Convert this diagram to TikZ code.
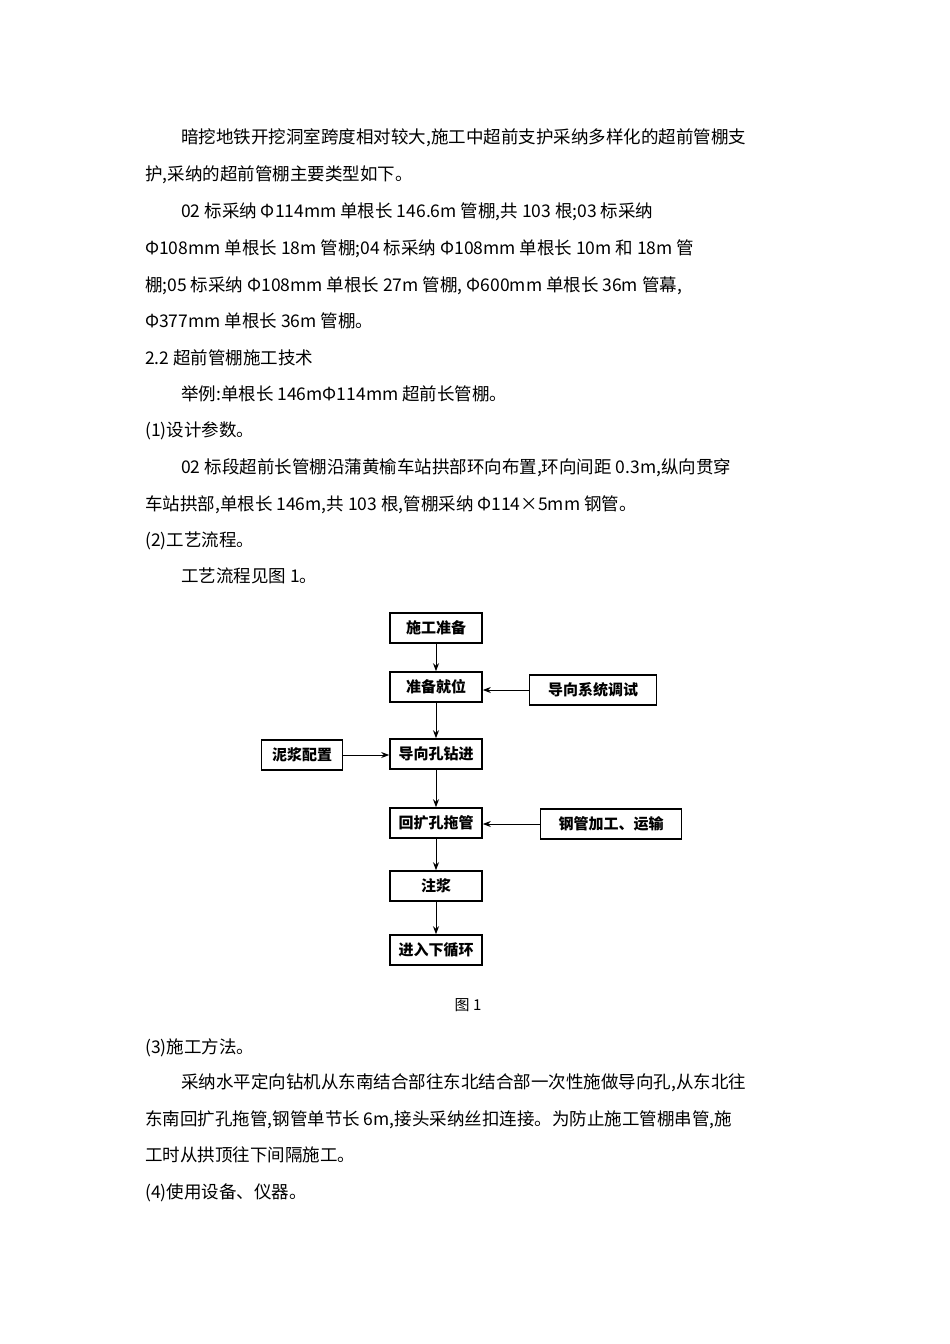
\documentclass[tikz,border=0pt]{standalone}
\usepackage{fontspec}
\setmainfont{Noto Sans CJK SC}
\usetikzlibrary{arrows.meta}
\tikzset{
 para/.style={anchor=base west,inner sep=0pt,font=\fontsize{17.5}{20}\selectfont},
 fbox/.style={draw,line width=1.6pt,minimum width=92pt,minimum height=30pt,inner sep=2pt,font=\fontsize{15}{17}\selectfont\bfseries},
 arr/.style={-{Stealth[length=8pt,width=6pt]},line width=1pt}
}
\begin{document}
\begin{tikzpicture}[x=1pt,y=-1pt]
\useasboundingbox[fill=white] (0,0) rectangle (950,1344);
\node[para] (t1) at (181,143) {暗挖地铁开挖洞室跨度相对较大,施工中超前支护采纳多样化的超前管棚支};
\node[para] (t2) at (145,180) {护,采纳的超前管棚主要类型如下。};
\node[para] (t3) at (181,217) {02 标采纳 Φ114mm 单根长 146.6m 管棚,共 103 根;03 标采纳};
\node[para] (t4) at (145,254) {Φ108mm 单根长 18m 管棚;04 标采纳 Φ108mm 单根长 10m 和 18m 管};
\node[para] (t5) at (145,291) {棚;05 标采纳 Φ108mm 单根长 27m 管棚, Φ600mm 单根长 36m 管幕,};
\node[para] (t6) at (145,327) {Φ377mm 单根长 36m 管棚。};
\node[para] (t7) at (145,364) {2.2 超前管棚施工技术};
\node[para] (t8) at (181,400) {举例:单根长 146mΦ114mm 超前长管棚。};
\node[para] (t9) at (145,436) {(1)设计参数。};
\node[para] (t10) at (181,473) {02 标段超前长管棚沿蒲黄榆车站拱部环向布置,环向间距 0.3m,纵向贯穿};
\node[para] (t11) at (145,510) {车站拱部,单根长 146m,共 103 根,管棚采纳 Φ114×5mm 钢管。};
\node[para] (t12) at (145,546) {(2)工艺流程。};
\node[para] (t13) at (181,582) {工艺流程见图 1。};

\node[fbox] (b1) at (436,628) {施工准备};
\node[fbox] (b2) at (436,687) {准备就位};
\node[fbox,minimum width=127pt] (s1) at (593,690) {导向系统调试};
\node[fbox,minimum width=81pt] (s2) at (302,755) {泥浆配置};
\node[fbox] (b3) at (436,754) {导向孔钻进};
\node[fbox] (b4) at (436,823) {回扩孔拖管};
\node[fbox,minimum width=141pt] (s3) at (611,824) {钢管加工、运输};
\node[fbox] (b5) at (436,886) {注浆};
\node[fbox] (b6) at (436,950) {进入下循环};
\draw[arr] (b1) -- (b2);
\draw[arr] (b2) -- (b3);
\draw[arr] (b3) -- (b4);
\draw[arr] (b4) -- (b5);
\draw[arr] (b5) -- (b6);
\draw[arr] (s1.west) -- (b2.east|-s1.west);
\draw[arr] (s2.east) -- (b3.west|-s2.east);
\draw[arr] (s3.west) -- (b4.east|-s3.west);
\node[font=\fontsize{15}{17}\selectfont] (cap) at (468,1005) {图 1};

\node[para] (u1) at (145,1053) {(3)施工方法。};
\node[para] (u2) at (181,1088) {采纳水平定向钻机从东南结合部往东北结合部一次性施做导向孔,从东北往};
\node[para] (u3) at (145,1125) {东南回扩孔拖管,钢管单节长 6m,接头采纳丝扣连接。为防止施工管棚串管,施};
\node[para] (u4) at (145,1161) {工时从拱顶往下间隔施工。};
\node[para] (u5) at (145,1198) {(4)使用设备、仪器。};
\end{tikzpicture}
\end{document}
